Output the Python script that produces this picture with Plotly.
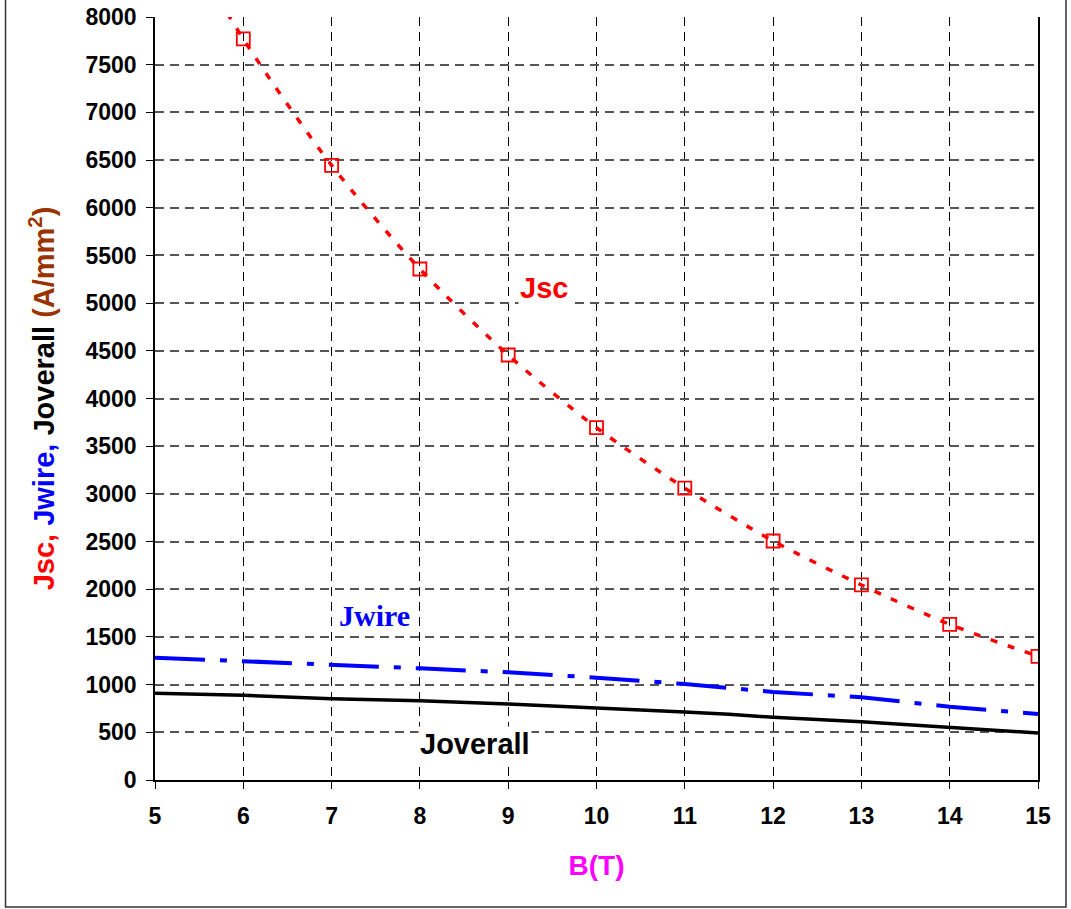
import plotly.graph_objects as go

# Magnetic field B (T)
b_field = [5, 6, 7, 8, 9, 10, 11, 12, 13, 14, 15]
b_markers = [6, 7, 8, 9, 10, 11, 12, 13, 14, 15]

# Current densities (A/mm^2)
jsc_line = [9350, 7770, 6445, 5358, 4456, 3694, 3060, 2506, 2045, 1632, 1297]
jsc_points = [7770, 6445, 5358, 4456, 3694, 3060, 2506, 2045, 1632, 1297]
jwire = [1283, 1248, 1209, 1171, 1129, 1073, 1006, 923, 867, 769, 692]
b_overall = [5, 6, 7, 8, 9, 10, 11, 11.5, 12, 13, 14, 15]
joverall = [909, 888, 853, 832, 797, 758, 713, 690, 657, 611, 556, 493]

y_ticks = list(range(0, 8001, 500))
x_ticks = list(range(5, 16))

FONT = "Liberation Sans"

fig = go.Figure()

fig.add_trace(go.Scatter(
    x=b_field, y=jsc_line, mode="lines",
    line=dict(color="#ff0000", width=3.5, dash="7px,11px", shape="spline", smoothing=0.8),
    showlegend=False, hoverinfo="skip",
))
fig.add_trace(go.Scatter(
    x=b_markers, y=jsc_points, mode="markers",
    marker=dict(symbol="square-open", size=13, color="#ff0000", line=dict(width=1.8)),
    showlegend=False,
))
fig.add_trace(go.Scatter(
    x=b_field, y=jwire, mode="lines",
    line=dict(color="#0000ff", width=4, dash="50px,15px,7px,15px"),
    showlegend=False,
))
fig.add_trace(go.Scatter(
    x=b_overall, y=joverall, mode="lines",
    line=dict(color="#000000", width=3.5),
    showlegend=False,
))

fig.add_annotation(x=9.4, y=5160, text="Jsc", showarrow=False, bgcolor="white",
                   font=dict(family=FONT, size=29, color="#ff0000", weight="bold"))
fig.add_annotation(x=7.49, y=1720, text="Jwire", showarrow=False, bgcolor="white",
                   font=dict(family="Liberation Serif", size=30, color="#0000ff", weight="bold"))
fig.add_annotation(x=8.62, y=380, text="Joverall", showarrow=False, bgcolor="white",
                   font=dict(family=FONT, size=29, color="#000000", weight="bold"))

y_title = ('<span style="color:#ff0000">Jsc, </span>'
           '<span style="color:#0000ff">Jwire, </span>'
           '<span style="color:#000000">Joverall </span>'
           '<span style="color:#993300">(A/mm<sup>2</sup>)</span>')

fig.update_layout(
    width=1071, height=909,
    margin=dict(l=155, r=33, t=17, b=129, autoexpand=False),
    paper_bgcolor="white", plot_bgcolor="white",
    font=dict(family=FONT, color="black"),
    xaxis=dict(
        range=[5, 15], tickvals=x_ticks, ticks="outside", ticklen=7, tickcolor="black",
        showline=True, linecolor="black", linewidth=1.5, mirror=False,
        showgrid=True, gridcolor="#000000", gridwidth=1, griddash="9px,6px",
        zeroline=False, ticklabelstandoff=8, automargin=False,
        tickfont=dict(family=FONT, size=23, color="black", weight="bold"),
        title=dict(text="B(T)", standoff=27,
                   font=dict(family=FONT, size=28, color="#ff00ff", weight="bold")),
    ),
    yaxis=dict(
        range=[0, 8000], tickvals=y_ticks, ticks="outside", ticklen=7, tickcolor="black",
        showline=True, linecolor="black", linewidth=1.5, mirror=True,
        showgrid=True, gridcolor="#555555", gridwidth=1.5, griddash="9px,6px",
        zeroline=False, ticklabelstandoff=5, automargin=False,
        tickfont=dict(family=FONT, size=23, color="black", weight="bold"),
        title=dict(text=y_title, standoff=22,
                   font=dict(family=FONT, size=29, weight="bold")),
    ),
    shapes=[dict(type="rect", xref="paper", yref="paper",
                 x0=-0.1693, x1=1.0317, y0=-0.1665, y1=1.03,
                 line=dict(color="#333333", width=1.5), layer="above")],
)

fig.write_html("out.html")
